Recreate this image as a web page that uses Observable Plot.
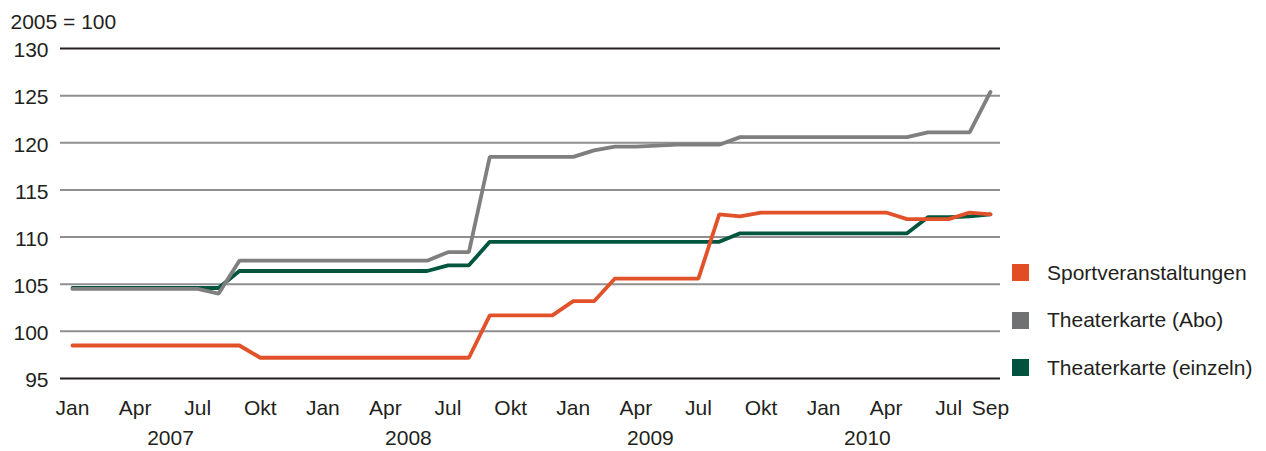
<!DOCTYPE html>
<html><head><meta charset="utf-8">
<script src="https://cdn.jsdelivr.net/npm/d3@7"></script>
<script src="https://cdn.jsdelivr.net/npm/@observablehq/plot@0.6"></script>
<style>
body{margin:0;background:#fff;font-family:"Liberation Sans",Arial,sans-serif;}
#wrap{position:relative;width:1266px;height:451px;}
#legend{position:absolute;left:1012px;top:264px;}
.item{display:flex;align-items:center;height:17px;margin-bottom:30.5px;font-size:21px;color:#231f20;white-space:nowrap}
.sw{width:17px;height:17px;margin-right:18px;flex:none}
</style></head><body><div id="wrap"><div id="legend"></div></div>
<script>
// Monthly index, Jan 2007 (0) .. Sep 2010 (44)
const seriesNames = ["Sportveranstaltungen", "Theaterkarte (Abo)", "Theaterkarte (einzeln)"];
const seriesColors = ["#e1512a", "#7f7f7f", "#00553f"];
const legendColors = ["#e34d26", "#6f7172", "#00523f"];

const sport = [
  98.5, 98.5, 98.5, 98.5, 98.5, 98.5, 98.5, 98.5, 98.5,
  97.2, 97.2, 97.2, 97.2, 97.2, 97.2, 97.2, 97.2, 97.2, 97.2, 97.2,
  101.7, 101.7, 101.7, 101.7,
  103.2, 103.2,
  105.6, 105.6, 105.6, 105.6, 105.6,
  112.4, 112.2,
  112.6, 112.6, 112.6, 112.6, 112.6, 112.6, 112.6,
  111.9, 111.9, 111.9,
  112.6, 112.4
];
const abo = [
  104.5, 104.5, 104.5, 104.5, 104.5, 104.5, 104.5,
  104.0,
  107.5, 107.5, 107.5, 107.5, 107.5, 107.5, 107.5, 107.5, 107.5, 107.5,
  108.4, 108.4,
  118.5, 118.5, 118.5, 118.5, 118.5,
  119.2,
  119.6, 119.6, 119.7, 119.8, 119.8, 119.8,
  120.6, 120.6, 120.6, 120.6, 120.6, 120.6, 120.6, 120.6, 120.6,
  121.1, 121.1, 121.1,
  125.4
];
const einzeln = [
  104.6, 104.6, 104.6, 104.6, 104.6, 104.6, 104.6, 104.6,
  106.4, 106.4, 106.4, 106.4, 106.4, 106.4, 106.4, 106.4, 106.4, 106.4,
  107.0, 107.0,
  109.5, 109.5, 109.5, 109.5, 109.5, 109.5, 109.5, 109.5, 109.5, 109.5, 109.5, 109.5,
  110.4, 110.4, 110.4, 110.4, 110.4, 110.4, 110.4, 110.4, 110.4,
  112.1, 112.1,
  112.2, 112.4
];

const yTicks = [95, 100, 105, 110, 115, 120, 125, 130];
const xTickIdx = [0, 3, 6, 9, 12, 15, 18, 21, 24, 27, 30, 33, 36, 39, 42, 44];
const xTickLabels = ["Jan","Apr","Jul","Okt","Jan","Apr","Jul","Okt","Jan","Apr","Jul","Okt","Jan","Apr","Jul","Sep"];
const yearLabels = ["2007", "2008", "2009", "2010"];
const yearPos = [4.7, 16.1, 27.7, 38.1];
const unitLabel = "2005 = 100";

const toRows = (arr, name) => arr.map((v, i) => ({i, v, s: name}));

const chart = Plot.plot({
  width: 1266, height: 451,
  marginLeft: 60, marginRight: 266, marginTop: 48, marginBottom: 73,
  x: {domain: [-0.575, 44.48], axis: null},
  y: {domain: [95, 130], axis: null},
  color: {domain: seriesNames, range: seriesColors},
  style: {fontFamily: "'Liberation Sans', Arial, sans-serif", fontSize: "21px", color: "#231f20", background: "transparent"},
  marks: [
    Plot.ruleY(yTicks.filter(d => d !== 95 && d !== 130), {stroke: "#8f8f8f", strokeWidth: 2}),
    Plot.ruleY(yTicks.filter(d => d === 95 || d === 130), {stroke: "#231f20", strokeWidth: 2}),
    Plot.axisY(yTicks, {tickSize: 0, tickPadding: 12, fontSize: 21, label: null, dy: 2}),
    Plot.axisX(xTickIdx, {tickSize: 0, tickPadding: 22, fontSize: 21, label: null,
      tickFormat: d => xTickLabels[xTickIdx.indexOf(d)]}),
    Plot.text(yearLabels, {x: (d, i) => yearPos[i], text: d => d, frameAnchor: "bottom", lineAnchor: "top", dy: 52, fontSize: 21}),
    Plot.text([unitLabel], {frameAnchor: "top-left", textAnchor: "start", lineAnchor: "top", dx: -50, dy: -34, fontSize: 21}),
    Plot.line(toRows(einzeln, seriesNames[2]), {x: "i", y: "v", stroke: "s", strokeWidth: 3.8, strokeLinejoin: "miter"}),
    Plot.line(toRows(sport, seriesNames[0]), {x: "i", y: "v", stroke: "s", strokeWidth: 3.8, strokeLinejoin: "miter"}),
    Plot.line(toRows(abo, seriesNames[1]), {x: "i", y: "v", stroke: "s", strokeWidth: 3.8, strokeLinejoin: "miter"})
  ]
});
const wrap = document.getElementById("wrap");
wrap.insertBefore(chart, wrap.firstChild);

const legend = document.getElementById("legend");
seriesNames.forEach((n, k) => {
  const it = document.createElement("div");
  it.className = "item";
  const sw = document.createElement("div");
  sw.className = "sw";
  sw.style.background = legendColors[k];
  const t = document.createElement("span");
  t.textContent = n;
  it.appendChild(sw); it.appendChild(t);
  legend.appendChild(it);
});
</script></body></html>
